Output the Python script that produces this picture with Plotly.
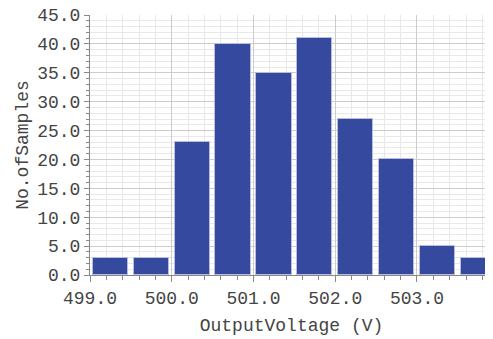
import plotly.graph_objects as go

bin_starts = [499.0, 499.5, 500.0, 500.5, 501.0, 501.5, 502.0, 502.5, 503.0, 503.5]
counts = [3, 3, 23, 40, 35, 41, 27, 20, 5, 3]
bin_width = 0.5
x_tick_vals = [499, 500, 501, 502, 503]
x_tick_text = ["499.0", "500.0", "501.0", "502.0", "503.0"]
y_tick_vals = [0, 5, 10, 15, 20, 25, 30, 35, 40, 45]
y_tick_text = ["0.0", "5.0", "10.0", "15.0", "20.0", "25.0", "30.0", "35.0", "40.0", "45.0"]

centers = [s + bin_width / 2 for s in bin_starts]

font = dict(family="Liberation Mono, Courier New, monospace", size=18, color="#444444")

fig = go.Figure(go.Bar(
    x=centers, y=counts, width=0.43,
    marker=dict(color="#354a9e", line=dict(color="#b8bde0", width=1)),
))

# page body has an 8px margin, so the figure is sized/offset to compensate
fig.update_layout(
    width=485, height=331,
    margin=dict(l=82, r=0, t=7, b=64, pad=0, autoexpand=False),
    plot_bgcolor="white", paper_bgcolor="white",
    font=font, showlegend=False, bargap=0,
)
fig.update_xaxes(
    range=[499, 503.93], tickvals=x_tick_vals, ticktext=x_tick_text,
    showline=True, linecolor="#888888", linewidth=1,
    ticks="outside", ticklen=6, tickcolor="#888888",
    showgrid=True, gridcolor="#cccccc", gridwidth=1,
    minor=dict(dtick=0.2, showgrid=True, gridcolor="#e8e8e8", ticks="outside", ticklen=4, tickcolor="#888888"),
    title=dict(text="OutputVoltage (V)", font=font, standoff=10),
    zeroline=False, automargin=False, ticklabeloverflow="allow",
)
fig.update_yaxes(
    range=[0, 45], tickvals=y_tick_vals, ticktext=y_tick_text,
    showline=True, linecolor="#888888", linewidth=1,
    ticks="outside", ticklen=5, tickcolor="#888888",
    showgrid=True, gridcolor="#cccccc", gridwidth=1,
    minor=dict(dtick=1, showgrid=True, gridcolor="#e8e8e8", ticks="outside", ticklen=3, tickcolor="#888888"),
    title=dict(text="No.ofSamples", font=font, standoff=3),
    zeroline=False, automargin=False, ticklabeloverflow="allow",
)

fig.write_html("out.html")
